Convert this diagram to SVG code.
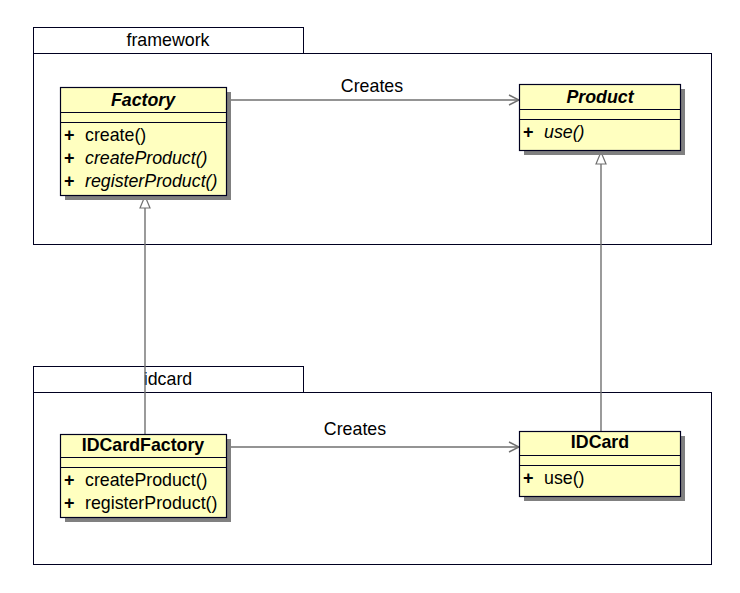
<svg xmlns="http://www.w3.org/2000/svg" width="740" height="593" viewBox="0 0 740 593">
<defs>
<style>
.pkg{fill:#fff;stroke:#000020;stroke-width:1}
.cls{fill:#ffffc0;stroke:#000020;stroke-width:1.2}
.sh{fill:#808080}
.sep{stroke:#000020;stroke-width:1}
text{font-family:"Liberation Sans",Arial,sans-serif;fill:#000}
.pt{font-size:17.8px}
.name{font-size:17.8px;font-weight:bold}
.mem{font-size:17.8px}
.plus{font-size:18px;font-weight:bold}
.conn{stroke:#707070;stroke-width:1.4;fill:none}
.lbl{font-size:17.8px}
</style>
<marker id="open" markerWidth="12" markerHeight="12" refX="11" refY="6" orient="auto" markerUnits="userSpaceOnUse">
<path d="M1,1 L11,6 L1,11" fill="none" stroke="#707070" stroke-width="1.4"/>
</marker>
<marker id="gen" markerWidth="14" markerHeight="12" refX="13" refY="6" orient="auto" markerUnits="userSpaceOnUse">
<path d="M1,1 L13,6 L1,11 Z" fill="#fff" stroke="#707070" stroke-width="1.2"/>
</marker>
</defs>
<rect width="740" height="593" fill="#fff"/>
<g id="pkg-framework">
<rect class="pkg" x="33.5" y="27.5" width="270" height="26"/>
<rect class="pkg" x="33.5" y="53.5" width="678" height="191"/>
<text class="pt" x="168" y="46" text-anchor="middle">framework</text>
</g>
<g id="pkg-idcard">
<rect class="pkg" x="33.5" y="366.5" width="270" height="26"/>
<rect class="pkg" x="33.5" y="392.5" width="678" height="172"/>
<text class="pt" x="168" y="385" text-anchor="middle">idcard</text>
</g>
<g id="connectors">
<line class="conn" x1="231" y1="100" x2="519" y2="100" marker-end="url(#open)"/>
<text class="lbl" x="372" y="92" text-anchor="middle">Creates</text>
<line class="conn" x1="231" y1="447" x2="519" y2="447" marker-end="url(#open)"/>
<text class="lbl" x="355" y="435" text-anchor="middle">Creates</text>
<line class="conn" x1="145" y1="434" x2="145" y2="196" marker-end="url(#gen)"/>
<line class="conn" x1="601" y1="431" x2="601" y2="152" marker-end="url(#gen)"/>
</g>
<g id="Factory">
<rect class="sh" x="65" y="92" width="166" height="108"/>
<rect class="cls" x="60.5" y="87.5" width="166" height="108"/>
<line class="sep" x1="60.5" y1="112.5" x2="226.5" y2="112.5"/>
<line class="sep" x1="60.5" y1="122.5" x2="226.5" y2="122.5"/>
<text class="name" x="143" y="106" text-anchor="middle" font-style="italic">Factory</text>
<text class="plus" x="64" y="141">+</text><text class="mem" x="85" y="141">create()</text>
<text class="plus" x="64" y="164">+</text><text class="mem" x="85" y="164" font-style="italic">createProduct()</text>
<text class="plus" x="64" y="187">+</text><text class="mem" x="85" y="187" font-style="italic">registerProduct()</text>
</g>
<g id="Product">
<rect class="sh" x="524" y="89" width="161" height="66"/>
<rect class="cls" x="519.5" y="84.5" width="161" height="66"/>
<line class="sep" x1="519.5" y1="109.5" x2="680.5" y2="109.5"/>
<line class="sep" x1="519.5" y1="119.5" x2="680.5" y2="119.5"/>
<text class="name" x="600" y="103" text-anchor="middle" font-style="italic">Product</text>
<text class="plus" x="523" y="138">+</text><text class="mem" x="544" y="138" font-style="italic">use()</text>
</g>
<g id="IDCardFactory">
<rect class="sh" x="65" y="439" width="166" height="83"/>
<rect class="cls" x="60.5" y="434.5" width="166" height="83"/>
<line class="sep" x1="60.5" y1="457.5" x2="226.5" y2="457.5"/>
<line class="sep" x1="60.5" y1="467.5" x2="226.5" y2="467.5"/>
<text class="name" x="143" y="451" text-anchor="middle">IDCardFactory</text>
<text class="plus" x="64" y="486">+</text><text class="mem" x="85" y="486">createProduct()</text>
<text class="plus" x="64" y="509">+</text><text class="mem" x="85" y="509">registerProduct()</text>
</g>
<g id="IDCard">
<rect class="sh" x="524" y="436" width="161" height="65"/>
<rect class="cls" x="519.5" y="431.5" width="161" height="65"/>
<line class="sep" x1="519.5" y1="455.5" x2="680.5" y2="455.5"/>
<line class="sep" x1="519.5" y1="465.5" x2="680.5" y2="465.5"/>
<text class="name" x="600" y="448" text-anchor="middle">IDCard</text>
<text class="plus" x="523" y="484">+</text><text class="mem" x="544" y="484">use()</text>
</g>
</svg>
